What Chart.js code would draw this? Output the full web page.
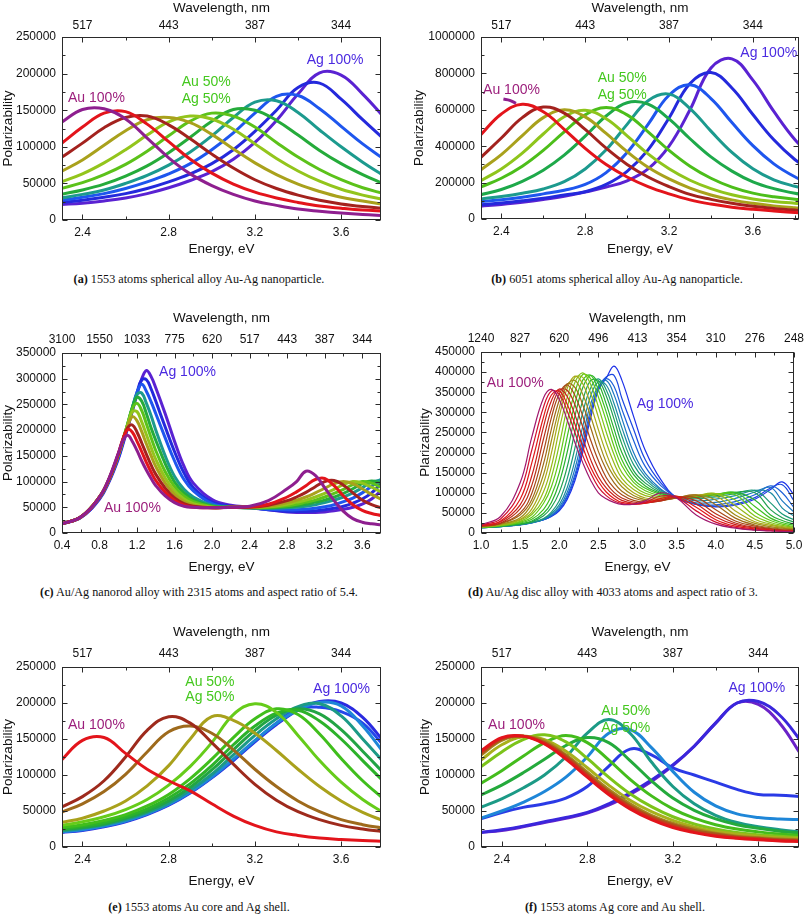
<!DOCTYPE html>
<html><head><meta charset="utf-8">
<script src="https://cdn.jsdelivr.net/npm/chart.js@4/dist/chart.umd.min.js"></script>
<style>
body{margin:0;background:#fff;width:810px;height:916px;position:relative;overflow:hidden}
canvas{position:absolute}
.cap{position:absolute;font-family:'Liberation Serif','DejaVu Serif',serif;font-size:12.2px;color:#111;white-space:nowrap;transform:translateX(-50%)}
</style></head><body>
<canvas id="cA" width="405" height="262" style="left:0;top:0;width:405px;height:262px"></canvas>
<canvas id="cB" width="405" height="262" style="left:405px;top:0;width:405px;height:262px"></canvas>
<canvas id="cC" width="405" height="265" style="left:0;top:310px;width:405px;height:265px"></canvas>
<canvas id="cD" width="405" height="265" style="left:405px;top:310px;width:405px;height:265px"></canvas>
<canvas id="cE" width="405" height="265" style="left:0;top:624px;width:405px;height:265px"></canvas>
<canvas id="cF" width="405" height="265" style="left:405px;top:624px;width:405px;height:265px"></canvas>
<div class="cap" style="left:199px;top:272px"><b>(a)</b> 1553 atoms spherical alloy Au-Ag nanoparticle.</div>
<div class="cap" style="left:617px;top:272px"><b>(b)</b> 6051 atoms spherical alloy Au-Ag nanoparticle.</div>
<div class="cap" style="left:199px;top:585px"><b>(c)</b> Au/Ag nanorod alloy with 2315 atoms and aspect ratio of 5.4.</div>
<div class="cap" style="left:613px;top:585px"><b>(d)</b> Au/Ag disc alloy with 4033 atoms and aspect ratio of 3.</div>
<div class="cap" style="left:199px;top:900px"><b>(e)</b> 1553 atoms Au core and Ag shell.</div>
<div class="cap" style="left:615px;top:900px"><b>(f)</b> 1553 atoms Ag core and Au shell.</div>
<script>
// ---------- DATA (polarizability values in thousands) ----------
const THOUSAND = 1000;

// Panel (a)
const energyA = [2.3,2.4,2.5,2.6,2.7,2.8,2.9,3.0,3.1,3.2,3.3,3.4,3.5,3.6,3.7,3.8];
const a_au100 = [133,151,152,138,112,85,63,47,35,26,20,15,12,9.5,7.5,6];
const a_au90  = [104,127,146,148,131,107,83,64,49,38,30,24,19,16,13.5,12];
const a_au80  = [85,105,126,140,142,130,111,90,71,55,43,34,27,22,18.5,16];
const a_au70  = [66,82,102,122,137,140,133,117,97,78,62,49,39,31,26,21];
const a_au60  = [52,63,78,96,116,134,142,138,124,104,84,67,53,42,34,28];
const a_au50  = [43,51,62,76,94,115,135,146,142,127,106,86,69,55,44,36];
const a_au40  = [35,41,49,60,74,92,113,135,151,150,136,116,95,77,62,49];
const a_au30  = [30,35,41,50,61,75,93,115,140,161,163,147,123,100,79,60];
const a_au20  = [27,31,36,43,52,63,77,96,119,146,169,170,152,128,104,83];
const a_au10  = [24,27,31,36,43,52,63,77,96,121,150,181,187,165,137,110];
const a_ag100 = [21,23,26,30,36,44,54,66,83,106,136,172,201,198,172,140];

// Panel (b)
const energyB = [2.3,2.4,2.5,2.6,2.7,2.8,2.9,3.0,3.1,3.2,3.3,3.4,3.5,3.6,3.7,3.8,3.9];
const energyBstub = [2.41,2.44,2.47];
const b_au100 = [659,652,636];
const b_au90  = [460,577,630,589,493,388,299,231,178,138,105,82,65,53,44,36,30];
const b_au80  = [336,445,557,615,582,492,389,300,231,178,135,108,86,70,58,49,42];
const b_au70  = [268,354,458,557,600,561,470,370,284,220,170,132,105,86,72,62,54];
const b_au60  = [209,275,362,467,562,597,551,457,358,276,213,167,133,110,96,87,80];
const b_au50  = [175,224,290,377,479,572,612,572,479,377,290,224,175,142,122,109,100];
const b_au40  = [133,162,207,268,351,455,566,639,631,550,441,341,263,204,167,142,125];
const b_au30  = [110,124,142,165,205,275,380,520,650,686,607,483,366,276,215,180,155];
const b_au20  = [95,106,120,138,158,190,255,365,520,680,738,662,530,403,303,232,180];
const b_au10  = [78,88,100,114,132,150,190,262,380,555,745,805,720,574,435,327,250];
const b_ag100 = [70,80,92,107,125,148,175,210,275,400,600,830,880,763,591,437,325];

// Panel (c)
const energyC = [0.4,0.6,0.8,0.9,1.0,1.05,1.1,1.15,1.2,1.25,1.3,1.35,1.4,1.5,1.6,1.7,1.8,2.0,2.2,2.4,2.6,2.8,2.9,3.0,3.1,3.2,3.3,3.4,3.5,3.6,3.7,3.8];
const c_au100 = [18,31,70,106,155,180,190,178,160,140,122,106,92,72,59,52,50,49,50,52,63,86,100,120,112,88,63,42,28,21,18,16];
const c_au90  = [18,31,70,105,154,183,201,196,178,158,137,118,102,79,63,54,50,49,50,51,56,70,80,92,104,106,92,72,55,44,38,34];
const c_au80  = [18,31,70,104,153,182,205,210,196,175,153,132,114,87,68,57,52,49,50,50,54,63,70,79,90,100,102,93,78,64,55,49];
const c_au70  = [18,31,70,104,152,181,208,226,218,197,173,150,129,97,75,61,54,49,50,50,52,59,64,70,78,87,96,100,96,86,75,66];
const c_au60  = [18,31,70,104,152,181,210,236,236,216,191,166,143,107,82,66,57,50,50,50,51,56,60,64,70,77,85,94,100,97,89,80];
const c_au50  = [18,31,70,104,152,182,212,242,252,238,212,185,160,119,90,72,61,51,50,49,50,53,56,60,64,70,77,85,94,100,97,89];
const c_au40  = [18,31,70,104,151,181,212,244,264,256,232,204,180,135,99,78,65,52,50,49,49,51,53,56,60,64,70,77,86,96,101,97];
const c_au30  = [18,31,69,103,150,180,211,244,270,272,252,228,200,150,110,85,70,54,50,49,48,49,50,52,55,59,64,70,78,88,99,103];
const c_au20  = [18,31,68,102,148,178,209,243,274,289,275,255,232,185,140,104,82,57,51,49,46,45,45,46,48,51,55,61,68,78,91,104];
const c_au10  = [18,30,67,101,146,176,207,240,273,298,298,280,256,206,158,117,88,60,52,49,45,42,42,42,43,45,48,52,58,66,78,96];
const c_ag100 = [18,30,66,99,144,173,204,237,270,300,316,304,282,232,178,130,97,65,54,50,45,41,40,40,40,41,43,46,50,56,66,82];

// Panel (d): 21 compositions, Au 100% -> Ag 100% in 5% steps
const energyD = [1.0,1.25,1.5,1.65,1.8,1.9,2.0,2.1,2.2,2.3,2.4,2.5,2.6,2.7,2.8,2.95,3.1,3.3,3.5,3.75,4.0,4.25,4.5,4.7,4.85,5.0];
const d_au100 = [21,41,125,239,336,357,332,282,225,175,132,100,85,76,71,72,80,100,87,45,22,12,7,5,4,3];
const d_au95  = [20,35,104,207,314,353,345,304,250,193,150,114,93,80,73,71,76,92,88,55,27,14,8,6,4,3];
const d_au90  = [19,30,84,175,289,343,353,321,271,214,164,128,102,86,76,72,74,86,90,64,33,17,10,7,5,4];
const d_au85  = [18,28,70,143,265,329,358,340,294,236,183,140,112,93,81,74,74,82,92,72,40,21,12,8,6,5];
const d_au80  = [17,25,60,119,235,308,355,355,319,264,206,159,124,101,87,77,75,80,90,80,48,25,14,10,7,6];
const d_au75  = [17,24,50,99,203,287,346,368,342,291,232,180,138,112,95,81,77,80,88,88,58,30,17,11,8,7];
const d_au70  = [16,23,45,83,173,259,330,371,362,319,263,203,158,125,104,87,80,81,87,94,70,37,20,13,10,8];
const d_au65  = [16,22,38,73,146,230,310,368,379,345,291,230,176,140,115,93,83,82,87,95,82,45,24,16,12,9];
const d_au60  = [15,21,34,60,125,199,289,359,390,371,320,257,199,152,125,100,87,84,87,94,92,55,28,19,14,10];
const d_au55  = [15,20,32,51,103,166,257,336,387,387,348,288,225,174,136,108,93,86,87,93,98,68,34,22,16,12];
const d_au50  = [15,19,29,46,84,139,219,310,374,398,370,314,251,195,150,117,99,89,88,92,98,82,42,26,19,14];
const d_au45  = [14,18,27,39,74,115,183,275,350,394,384,338,279,215,167,126,105,92,88,92,97,95,52,31,22,16];
const d_au40  = [14,18,25,34,59,93,150,238,321,380,392,356,301,238,182,134,111,95,89,91,96,100,66,37,26,19];
const d_au35  = [14,17,23,30,49,76,125,200,290,361,392,372,321,259,200,145,117,98,89,90,95,101,82,45,31,22];
const d_au30  = [13,17,22,28,43,64,101,163,252,329,379,379,341,283,221,155,124,100,89,88,93,101,100,58,38,27];
const d_au25  = [13,16,21,26,36,52,80,134,211,299,360,383,356,303,241,170,132,103,89,85,90,98,106,75,47,33];
const d_au20  = [13,16,21,26,35,48,70,112,180,265,340,376,368,322,262,185,140,106,89,80,84,93,106,100,62,42];
const d_au15  = [13,16,21,26,34,45,64,100,160,240,320,365,379,344,285,200,148,109,88,75,76,86,102,113,80,52];
const d_au10  = [13,16,20,25,33,43,60,92,145,222,305,362,384,365,308,230,165,117,88,72,70,78,95,117,100,63];
const d_au5   = [14,17,21,26,33,42,58,88,138,210,295,360,388,392,335,258,182,124,88,71,67,72,88,112,120,80];
const d_ag100 = [14,17,21,26,33,41,55,83,130,200,285,355,385,415,380,290,205,132,88,71,65,69,84,108,127,95];

// Panels (e) and (f)
const energyEF = [2.3,2.4,2.5,2.6,2.7,2.8,2.9,3.0,3.1,3.2,3.3,3.4,3.5,3.6,3.7,3.8];
const e_au100 = [120,148,152,130,108,92,78,60,43,30,21,16,12.5,10.5,9,8];
const e_s2    = [55,70,92,125,162,181,172,145,115,87,65,49,38,30,25,21];
const e_s3    = [48,60,77,101,132,160,168,158,135,108,84,64,49,38,31,26];
const e_s4    = [34,40,50,64,85,113,150,181,176,158,134,108,84,64,48,36];
const e_au50  = [30,35,42,52,66,86,112,145,184,199,187,155,120,90,66,47];
const e_s6    = [27,31,37,45,57,73,95,122,152,178,192,184,157,123,92,66];
const e_s7    = [25,29,34,42,53,68,88,113,142,168,186,190,175,150,120,90];
const e_s8    = [24,27,32,40,50,64,83,107,135,162,183,192,185,163,133,102];
const e_s9    = [22,26,31,38,48,61,79,101,128,155,178,195,199,182,150,117];
const e_s10   = [21,24,29,36,46,59,76,97,122,148,172,190,201,196,168,130];
const e_s11   = [21,24,29,36,46,59,76,97,121,147,172,192,194,188,172,140];
const e_ag100 = [20,23,28,35,45,58,75,96,120,146,170,190,202,200,180,146];

const f_au100 = [133,152,154,143,122,97,73,53,38,27,20,15,12,10,8.5,7.5];
const f_s2    = [131,151,154,144,124,99,75,55,40,29,21,16,13,11,9,8];
const f_s3    = [129,150,154,145,126,101,77,57,42,31,23,18,14,12,10,9];
const f_s4    = [127,148,154,147,128,104,80,60,44,33,25,19,15,13,11,10];
const f_s5    = [120,142,153,149,133,110,86,65,49,37,28,22,18,15,13,12];
const f_au50  = [111,132,149,156,146,123,97,74,56,42,32,25,20,17,15,13];
const f_s7    = [88,106,126,145,155,145,121,94,71,53,40,31,25,21,18,16];
const f_s8    = [72,86,103,122,141,152,145,120,92,68,51,39,31,26,22,19];
const f_s9    = [55,67,82,100,125,158,177,158,118,84,60,44,34,28,24,21];
const f_s10   = [40,50,62,77,97,125,158,163,138,105,76,57,46,41,39,38];
const f_s11   = [39,48,55,60,68,84,112,136,128,110,100,90,80,73,72,70];
const f_s12   = [20,24,29,35,41,48,60,75,93,114,140,172,200,202,183,147];
const f_ag100 = [20,23,28,34,40,47,58,73,91,113,140,172,200,198,172,128];

// Tick values and labels
const energyTicksA = [2.4,2.8,3.2,3.6];
const wavelengthLabelsA = ['517','443','387','344'];
const energyTicksC = [0.4,0.8,1.2,1.6,2.0,2.4,2.8,3.2,3.6];
const wavelengthLabelsC = ['3100','1550','1033','775','620','517','443','387','344'];
const energyTicksD = [1.0,1.5,2.0,2.5,3.0,3.5,4.0,4.5,5.0];
const wavelengthLabelsD = ['1240','827','620','496','413','354','310','276','248'];

// ---------- STYLE ----------
const SANS = "'Liberation Sans', Arial, Helvetica, sans-serif";
const COL_AU = '#9c1f7c', COL_MID = '#44c81e', COL_AG = '#4a2ae0';
const palA = ['#8e1f8f','#e3141b','#a3221e','#a9a11c','#93c51c','#5cc21a','#25ab3a','#1c9a8e','#1e56ee','#2429dc','#5a22d2'];
const palB = ['#e3141b','#a3221e','#a9a11c','#8fc51c','#4cbe1a','#1ea94a','#1c9a8e','#1e56ee','#2429dc','#5a22d2'];
const palD = ['#a0186e','#d01030','#e01818','#c8201c','#b83018','#a84818','#a06a18','#a08c18','#a8a818','#98b818','#80c418','#60c818','#40c020','#28b030','#20a050','#1c9a78','#1c8aa0','#1c78c0','#1c60d8','#1c48e0','#1c30e8'];
const palE = ['#e3141b','#9e2a1c','#9e6a1c','#a9a11c','#66cc1a','#40be1c','#2cb22a','#22a444','#1c9a86','#1e86d8','#2448ea','#2a2ae0'];
const palF = ['#e3141b','#c8381a','#a8581c','#a8841c','#a8b01c','#7cc41a','#44bc1c','#24aa3c','#1c9a86','#1e86d8','#2a3ae6','#3a26dc','#6a22c8'];

const frameTicks = {
  id: 'frameTicks',
  afterDraw(chart) {
    const {ctx, chartArea: a, scales} = chart;
    ctx.save();
    ctx.strokeStyle = '#2a2a2a'; ctx.lineWidth = 1;
    const L = Math.round(a.left) + 0.5, T = Math.round(a.top) + 0.5;
    const R = Math.round(a.right) - 0.5, B = Math.round(a.bottom) - 0.5;
    ctx.strokeRect(L, T, R - L, B - T);
    const marks = (sc) => {
      const v = sc.ticks.map(t => t.value), out = [];
      v.forEach(x => out.push([x, 5]));
      if (v.length > 1) {
        const st = v[1] - v[0];
        for (let k = -1; k < v.length; k++) {
          const m = k < 0 ? v[0] - st / 2 : v[k] + st / 2;
          if (m > sc.min + 1e-9 && m < sc.max - 1e-9) out.push([m, 3]);
        }
      }
      return out;
    };
    ctx.beginPath();
    marks(scales.x).forEach(([val, len]) => {
      const px = Math.round(scales.x.getPixelForValue(val)) + 0.5;
      ctx.moveTo(px, B); ctx.lineTo(px, B - len);
      ctx.moveTo(px, T); ctx.lineTo(px, T + len);
    });
    marks(scales.y).forEach(([val, len]) => {
      const py = Math.round(scales.y.getPixelForValue(val)) + 0.5;
      ctx.moveTo(L, py); ctx.lineTo(L + len, py);
      ctx.moveTo(R, py); ctx.lineTo(R - len, py);
    });
    ctx.stroke();
    ctx.restore();
  }
};
const curveLabels = {
  id: 'curveLabels',
  afterDatasetsDraw(chart, args, opts) {
    const {ctx, scales: {x, y}} = chart;
    ctx.save();
    ctx.font = '14px ' + SANS;
    ctx.textBaseline = 'middle'; ctx.textAlign = 'left';
    (opts.items || []).forEach(it => {
      ctx.fillStyle = it.color;
      ctx.fillText(it.text, x.getPixelForValue(it.e), y.getPixelForValue(it.v * THOUSAND));
    });
    ctx.restore();
  }
};
Chart.register(frameTicks, curveLabels);

function series(xs, ys, color, width) {
  return {
    data: xs.map((x, i) => ({x: x, y: ys[i] * THOUSAND})),
    borderColor: color, backgroundColor: color, borderWidth: width,
    pointRadius: 0, tension: 0.4, fill: false, clip: 0
  };
}

function panel(id, o) {
  const tickFont = {family: SANS, size: 12};
  const titleFont = {family: SANS, size: 13.5};
  new Chart(document.getElementById(id), {
    type: 'line',
    data: {datasets: o.datasets},
    options: {
      responsive: false, animation: false, devicePixelRatio: 1, events: [],
      layout: {padding: {left: 0, right: o.padRight, top: 0, bottom: 0}},
      plugins: {legend: {display: false}, tooltip: {enabled: false}, curveLabels: {items: o.labels}},
      scales: {
        x: {
          type: 'linear', position: 'bottom', min: o.xMin, max: o.xMax,
          afterBuildTicks: s => { s.ticks = o.eTicks.map(v => ({value: v})); },
          afterFit: s => { s.height = o.bottomH; },
          ticks: {font: tickFont, color: '#111', padding: 5, maxRotation: 0, autoSkip: false,
                  callback: v => Number(v).toFixed(1)},
          grid: {display: false, drawTicks: false}, border: {display: false},
          title: {display: true, text: 'Energy, eV', font: titleFont, color: '#111', padding: {top: 0, bottom: o.botTitlePad}}
        },
        x2: {
          type: 'linear', position: 'top', display: true, min: o.xMin, max: o.xMax,
          afterBuildTicks: s => { s.ticks = o.eTicks.map(v => ({value: v})); },
          afterFit: s => { s.height = o.topH; },
          ticks: {font: tickFont, color: '#111', padding: o.topTickPad, maxRotation: 0, autoSkip: false,
                  callback: (v, i) => o.wl[i]},
          grid: {display: false, drawTicks: false}, border: {display: false},
          title: {display: true, text: 'Wavelength, nm', font: titleFont, color: '#111', padding: {top: 0, bottom: 0}}
        },
        y: {
          type: 'linear', position: 'left', min: 0, max: o.yMax,
          afterFit: s => { s.width = o.leftW; },
          ticks: {font: tickFont, color: '#111', padding: 6, stepSize: o.yStep, callback: v => String(v)},
          grid: {display: false, drawTicks: false}, border: {display: false},
          title: {display: true, text: o.yTitle, font: titleFont, color: '#111', padding: {top: o.yTitlePad, bottom: 0}}
        }
      }
    }
  });
}

// (a)
const aSeries = [a_au100,a_au90,a_au80,a_au70,a_au60,a_au50,a_au40,a_au30,a_au20,a_au10,a_ag100];
panel('cA', {
  datasets: aSeries.map((s, i) => series(energyA, s, palA[i], 3)),
  xMin: 2.305, xMax: 3.785, eTicks: energyTicksA, wl: wavelengthLabelsA,
  yMax: 250000, yStep: 50000, yTitle: 'Polarizability',
  leftW: 62, topH: 37, bottomH: 42, padRight: 24, topTickPad: 4, botTitlePad: 5, yTitlePad: 0,
  labels: [
    {text: 'Au 100%', e: 2.333, v: 167, color: COL_AU},
    {text: 'Au 50%', e: 2.86, v: 188, color: COL_MID},
    {text: 'Ag 50%', e: 2.86, v: 165, color: COL_MID},
    {text: 'Ag 100%', e: 3.44, v: 218, color: COL_AG}
  ]
});

// (b)
const bSeries = [b_au90,b_au80,b_au70,b_au60,b_au50,b_au40,b_au30,b_au20,b_au10,b_ag100];
panel('cB', {
  datasets: [series(energyBstub, b_au100, palA[0], 3)].concat(bSeries.map((s, i) => series(energyB, s, palB[i], 3))),
  xMin: 2.303, xMax: 3.82, eTicks: energyTicksA, wl: wavelengthLabelsA,
  yMax: 1000000, yStep: 200000, yTitle: 'Polarizability',
  leftW: 76, topH: 37, bottomH: 43, padRight: 11, topTickPad: 4, botTitlePad: 5, yTitlePad: 6,
  labels: [
    {text: 'Au 100%', e: 2.313, v: 709, color: COL_AU},
    {text: 'Au 50%', e: 2.86, v: 775, color: COL_MID},
    {text: 'Ag 50%', e: 2.86, v: 681, color: COL_MID},
    {text: 'Ag 100%', e: 3.54, v: 912, color: COL_AG}
  ]
});

// (c)
const cSeries = [c_au100,c_au90,c_au80,c_au70,c_au60,c_au50,c_au40,c_au30,c_au20,c_au10,c_ag100];
panel('cC', {
  datasets: cSeries.map((s, i) => series(energyC, s, palA[i], 3)),
  xMin: 0.4, xMax: 3.8, eTicks: energyTicksC, wl: wavelengthLabelsC,
  yMax: 350000, yStep: 50000, yTitle: 'Polarizability',
  leftW: 62, topH: 43, bottomH: 42, padRight: 24, topTickPad: 6, botTitlePad: 0, yTitlePad: 0,
  labels: [
    {text: 'Ag 100%', e: 1.435, v: 313, color: COL_AG},
    {text: 'Au 100%', e: 0.848, v: 49, color: COL_AU}
  ]
});

// (d)
const dSeries = [d_au100,d_au95,d_au90,d_au85,d_au80,d_au75,d_au70,d_au65,d_au60,d_au55,d_au50,d_au45,d_au40,d_au35,d_au30,d_au25,d_au20,d_au15,d_au10,d_au5,d_ag100];
panel('cD', {
  datasets: dSeries.map((s, i) => series(energyD, s, palD[i], 1.2)),
  xMin: 1.0, xMax: 5.0, eTicks: energyTicksD, wl: wavelengthLabelsD,
  yMax: 450000, yStep: 50000, yTitle: 'Plarizability',
  leftW: 76, topH: 42, bottomH: 42, padRight: 11, topTickPad: 6, botTitlePad: 0, yTitlePad: 12,
  labels: [
    {text: 'Au 100%', e: 1.075, v: 373, color: COL_AU},
    {text: 'Ag 100%', e: 2.99, v: 321, color: COL_AG}
  ]
});

// (e)
const eSeries = [e_au100,e_s2,e_s3,e_s4,e_au50,e_s6,e_s7,e_s8,e_s9,e_s10,e_s11,e_ag100];
panel('cE', {
  datasets: eSeries.map((s, i) => series(energyEF, s, palE[i], 3)),
  xMin: 2.305, xMax: 3.785, eTicks: energyTicksA, wl: wavelengthLabelsA,
  yMax: 250000, yStep: 50000, yTitle: 'Polarizability',
  leftW: 62, topH: 43, bottomH: 42, padRight: 24, topTickPad: 6, botTitlePad: 0, yTitlePad: 0,
  labels: [
    {text: 'Au 100%', e: 2.333, v: 169, color: COL_AU},
    {text: 'Au 50%', e: 2.877, v: 229, color: COL_MID},
    {text: 'Ag 50%', e: 2.877, v: 208, color: COL_MID},
    {text: 'Ag 100%', e: 3.47, v: 219, color: COL_AG}
  ]
});

// (f)
const fSeries = [f_au100,f_s2,f_s3,f_s4,f_s5,f_au50,f_s7,f_s8,f_s9,f_s10,f_s11,f_s12,f_ag100];
panel('cF', {
  datasets: fSeries.map((s, i) => series(energyEF, s, palF[i], 3)),
  xMin: 2.303, xMax: 3.79, eTicks: energyTicksA, wl: wavelengthLabelsA,
  yMax: 250000, yStep: 50000, yTitle: 'Polarizability',
  leftW: 76, topH: 43, bottomH: 42, padRight: 11, topTickPad: 6, botTitlePad: 0, yTitlePad: 12,
  labels: [
    {text: 'Au 100%', e: 2.336, v: 169, color: COL_AU},
    {text: 'Au 50%', e: 2.865, v: 189, color: COL_MID},
    {text: 'Ag 50%', e: 2.865, v: 165, color: COL_MID},
    {text: 'Ag 100%', e: 3.46, v: 221, color: COL_AG}
  ]
});
</script>
</body></html>
